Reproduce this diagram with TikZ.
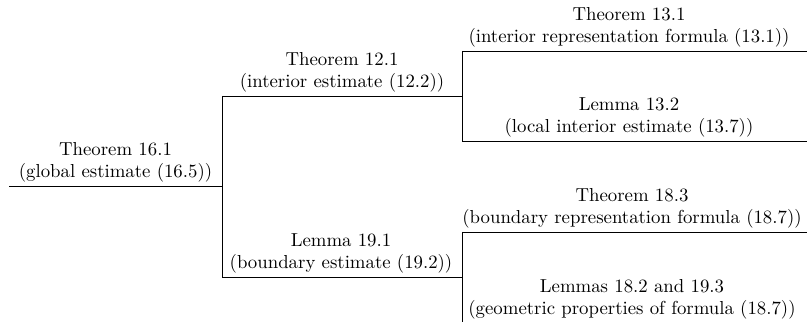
\documentclass[tikz,border=0pt]{standalone}
\begin{document}
\begin{tikzpicture}[x=0.532pt,y=-0.532pt,
  lbl/.style={align=center, anchor=south, inner xsep=0pt, inner ysep=1.75pt},
  rule/.style={line width=0.45pt}]
\useasboundingbox (0,0) rectangle (807,322);
% line end points
\coordinate (r0) at (9,186);   \coordinate (r1) at (222,186);
\coordinate (a0) at (222,96);  \coordinate (a1) at (462,96);
\coordinate (b0) at (222,277); \coordinate (b1) at (462,277);
\coordinate (c0) at (462,51);  \coordinate (c1) at (807,51);
\coordinate (d0) at (462,141); \coordinate (d1) at (807,141);
\coordinate (e0) at (462,232); \coordinate (e1) at (807,232);
\coordinate (f0) at (462,323); \coordinate (f1) at (807,323);
% horizontal rules
\draw[rule] (r0) -- (r1);
\draw[rule] (a0) -- (a1);
\draw[rule] (b0) -- (b1);
\draw[rule] (c0) -- (c1);
\draw[rule] (d0) -- (d1);
\draw[rule] (e0) -- (e1);
\draw[rule] (f0) -- (f1);
% vertical connectors
\draw[rule] (a0) -- (b0);
\draw[rule] (c0) -- (d0);
\draw[rule] (e0) -- (f0);
% labels
\node[lbl] (root) at (115.5,186) {Theorem 16.1\\(global estimate (16.5))};
\node[lbl] (t121) at (342,96) {Theorem 12.1\\(interior estimate (12.2))};
\node[lbl] (l191) at (341,277) {Lemma 19.1\\(boundary estimate (19.2))};
\node[lbl] (t131) at (629,51) {Theorem 13.1\\(interior representation formula (13.1))};
\node[lbl] (l132) at (629,141) {Lemma 13.2\\(local interior estimate (13.7))};
\node[lbl] (t183) at (632,232) {Theorem 18.3\\(boundary representation formula (18.7))};
\node[lbl] (l182) at (632,323) {Lemmas 18.2 and 19.3\\(geometric properties of formula (18.7))};
\end{tikzpicture}
\end{document}
